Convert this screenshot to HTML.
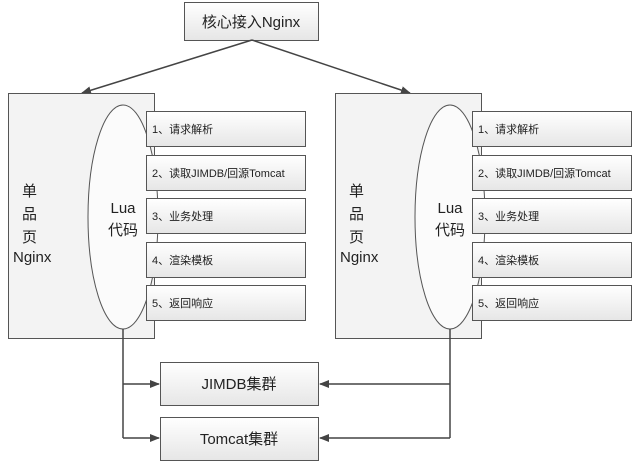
<!DOCTYPE html>
<html><head><meta charset="utf-8"><style>
html,body{margin:0;padding:0;background:#fff;}
svg text{font-family:"Liberation Sans","Noto Sans CJK SC",sans-serif;fill:#222;}
</style></head><body>
<svg width="640" height="470" viewBox="0 0 640 470" xmlns="http://www.w3.org/2000/svg">
<defs>
<linearGradient id="g" x1="0" y1="0" x2="0" y2="1"><stop offset="0" stop-color="#ffffff"/><stop offset="1" stop-color="#e6e6e6"/></linearGradient>
<marker id="a" markerWidth="10" markerHeight="8" refX="9" refY="4" orient="auto" markerUnits="userSpaceOnUse"><path d="M0,0 L10,4 L0,8 z" fill="#444"/></marker>
</defs>
<g stroke="#555" stroke-width="1">
<rect x="184.5" y="2.5" width="134" height="38" fill="url(#g)"/>
<line x1="252" y1="40" x2="82" y2="93" stroke="#444" stroke-width="1.5" marker-end="url(#a)"/>
<line x1="252" y1="40" x2="410" y2="93" stroke="#444" stroke-width="1.5" marker-end="url(#a)"/>

<rect x="8.5" y="93.5" width="146" height="245" fill="#f3f3f3"/>
<ellipse cx="123" cy="217" rx="35" ry="112" fill="#fbfbfb"/>
<rect x="146.5" y="111.5" width="159" height="35" fill="url(#g)"/>
<rect x="146.5" y="155.5" width="159" height="35" fill="url(#g)"/>
<rect x="146.5" y="198.5" width="159" height="35" fill="url(#g)"/>
<rect x="146.5" y="242.5" width="159" height="35" fill="url(#g)"/>
<rect x="146.5" y="285.5" width="159" height="35" fill="url(#g)"/>

<rect x="335.5" y="93.5" width="146" height="245" fill="#f3f3f3"/>
<ellipse cx="450" cy="217" rx="35" ry="112" fill="#fbfbfb"/>
<rect x="472.5" y="111.5" width="159" height="35" fill="url(#g)"/>
<rect x="472.5" y="155.5" width="159" height="35" fill="url(#g)"/>
<rect x="472.5" y="198.5" width="159" height="35" fill="url(#g)"/>
<rect x="472.5" y="242.5" width="159" height="35" fill="url(#g)"/>
<rect x="472.5" y="285.5" width="159" height="35" fill="url(#g)"/>

<rect x="160.5" y="362.5" width="158" height="43" fill="url(#g)"/>
<rect x="160.5" y="417.5" width="158" height="43" fill="url(#g)"/>
<polyline points="123,329 123,438" fill="none" stroke="#444" stroke-width="1.5"/>
<line x1="123" y1="384" x2="159" y2="384" stroke="#444" stroke-width="1.5" marker-end="url(#a)"/>
<line x1="123" y1="438" x2="159" y2="438" stroke="#444" stroke-width="1.5" marker-end="url(#a)"/>
<polyline points="450,329 450,438" fill="none" stroke="#444" stroke-width="1.5"/>
<line x1="450" y1="384" x2="320" y2="384" stroke="#444" stroke-width="1.5" marker-end="url(#a)"/>
<line x1="450" y1="438" x2="320" y2="438" stroke="#444" stroke-width="1.5" marker-end="url(#a)"/>
</g>
<text x="251" y="27" font-size="15" text-anchor="middle">核心接入Nginx</text>
<g font-size="15">
<text x="22" y="196">单</text><text x="22" y="219">品</text><text x="22" y="242">页</text><text x="13" y="262">Nginx</text>
<text x="123" y="213" text-anchor="middle">Lua</text><text x="123" y="235" text-anchor="middle">代码</text>
<text x="349" y="196">单</text><text x="349" y="219">品</text><text x="349" y="242">页</text><text x="340" y="262">Nginx</text>
<text x="450" y="213" text-anchor="middle">Lua</text><text x="450" y="235" text-anchor="middle">代码</text>
</g>
<g font-size="11">
<text x="152" y="133">1、请求解析</text>
<text x="152" y="177">2、读取JIMDB/回源Tomcat</text>
<text x="152" y="220">3、业务处理</text>
<text x="152" y="264">4、渲染模板</text>
<text x="152" y="307">5、返回响应</text>
<text x="478" y="133">1、请求解析</text>
<text x="478" y="177">2、读取JIMDB/回源Tomcat</text>
<text x="478" y="220">3、业务处理</text>
<text x="478" y="264">4、渲染模板</text>
<text x="478" y="307">5、返回响应</text>
</g>
<text x="239" y="389" font-size="15" text-anchor="middle">JIMDB集群</text>
<text x="239" y="444" font-size="15" text-anchor="middle">Tomcat集群</text>
</svg>
</body></html>
